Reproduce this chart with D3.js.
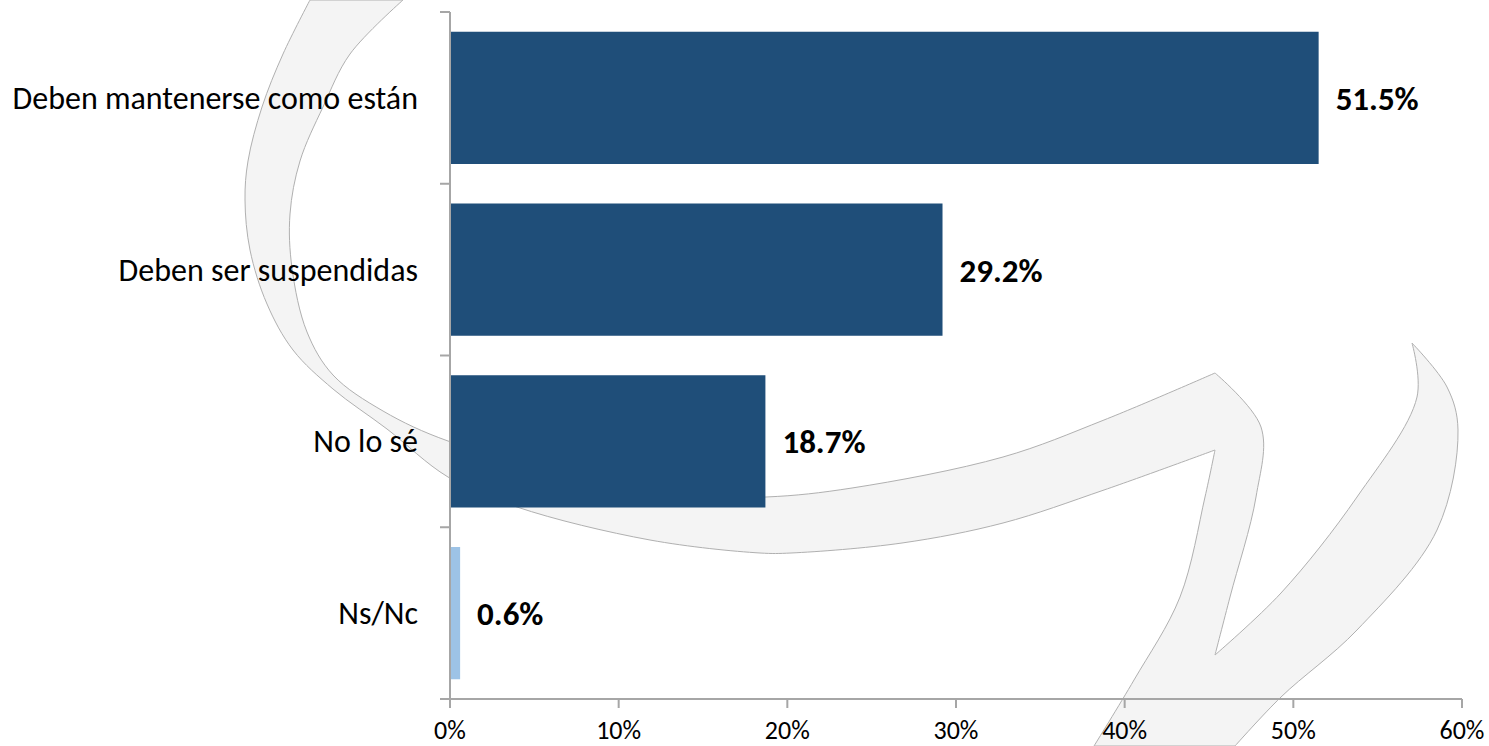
<!DOCTYPE html>
<html>
<head>
  <meta charset="utf-8">
  <title>Encuesta</title>
  <script src="https://d3js.org/d3.v7.min.js"></script>
  <style>
    body { margin: 0; background: #fff; }
    text { font-family: Calibri, Carlito, Lato, sans-serif; fill: #000; }
    .cat { font-size: 32px; }
    .val { font-size: 33px; font-weight: bold; }
    .tick-label { font-size: 26px; }
    .axis-line { stroke: #a6a6a6; stroke-width: 2px; fill: none; }
    .watermark { fill: #f4f4f4; stroke: #b0b0b0; stroke-width: 1px; }
  </style>
</head>
<body>
  <svg width="1489" height="746"></svg>
  <script>
    // data
    const categories = ["Deben mantenerse como están", "Deben ser suspendidas", "No lo sé", "Ns/Nc"];
    const values = [0.515, 0.292, 0.187, 0.006];
    const barColors = ["#1f4e79", "#1f4e79", "#1f4e79", "#9dc3e6"];
    const xTicks = [0, 0.1, 0.2, 0.3, 0.4, 0.5, 0.6];

    const width = 1489, height = 746;
    const svg = d3.select("svg").attr("width", width).attr("height", height);

    const x = d3.scaleLinear().domain([0, 0.6]).range([450, 1462]);
    const y = d3.scaleBand().domain(categories).range([12, 699])
      .paddingInner(0.23).paddingOuter(0.115);

    // background watermark (decorative swoosh)
    const smooth = d3.line().curve(d3.curveCatmullRom.alpha(0.5));
    const pieces = [
      [[310,0],[283,54],[262,107],[248,161],[245,200],[250,250],[267,304],[293,350],[333,389],[387,429],[448,477],[517,507],[650,540],[760,553],[791,553],[902,543],[1003,523],[1104,490],[1215,450]],
      [[1215,450],[1205,497],[1180,597],[1134,680],[1094,746]],
      [[1094,746],[1235,746]],
      [[1235,746],[1281,697],[1357,630],[1437,530],[1458,430],[1447,387],[1412,343]],
      [[1412,343],[1417,397],[1357,497],[1281,593],[1215,655]],
      [[1215,655],[1230,597],[1256,497],[1261,427],[1215,373]],
      [[1215,373],[1104,420],[1003,457],[852,488],[766,497],[650,495],[560,470],[448,441],[383,411],[333,375],[307,332],[292,268],[290,214],[300,161],[323,107],[350,54],[403,0]]
    ];
    const wmPath = pieces.map((p, i) => {
      const s = smooth(p);
      return i === 0 ? s : "L" + s.slice(1);
    }).join("") + "Z";
    svg.append("path").attr("class", "watermark").attr("d", wmPath);

    // bars
    svg.selectAll(".bar")
      .data(categories)
      .enter().append("rect")
      .attr("class", "bar")
      .attr("x", x(0) + 1)
      .attr("y", d => y(d))
      .attr("width", (d, i) => x(values[i]) - x(0) - 1)
      .attr("height", y.bandwidth())
      .attr("fill", (d, i) => barColors[i]);

    // value labels
    svg.selectAll(".val")
      .data(categories)
      .enter().append("text")
      .attr("class", "val")
      .attr("x", (d, i) => x(values[i]) + 17)
      .attr("y", d => y(d) + y.bandwidth() / 2)
      .attr("dy", "0.36em")
      .text((d, i) => (values[i] * 100).toFixed(1) + "%");

    // category labels
    svg.selectAll(".cat")
      .data(categories)
      .enter().append("text")
      .attr("class", "cat")
      .attr("x", 418)
      .attr("y", d => y(d) + y.bandwidth() / 2)
      .attr("dy", "0.34em")
      .attr("text-anchor", "end")
      .text(d => d);

    // vertical axis with ticks between categories
    const [y0, y1] = y.range();
    svg.append("line").attr("class", "axis-line")
      .attr("x1", x(0)).attr("x2", x(0)).attr("y1", y0).attr("y2", y1);
    d3.range(categories.length + 1).forEach(i => {
      const yy = y0 + i * y.step();
      svg.append("line").attr("class", "axis-line")
        .attr("x1", x(0) - 10).attr("x2", x(0)).attr("y1", yy).attr("y2", yy);
    });

    // horizontal axis
    svg.append("line").attr("class", "axis-line")
      .attr("x1", x(0) - 10).attr("x2", x(0.6)).attr("y1", y1).attr("y2", y1);
    xTicks.forEach(t => {
      svg.append("line").attr("class", "axis-line")
        .attr("x1", x(t)).attr("x2", x(t)).attr("y1", y1).attr("y2", y1 + 9);
      svg.append("text").attr("class", "tick-label")
        .attr("x", x(t)).attr("y", 739)
        .attr("text-anchor", "middle")
        .text(Math.round(t * 100) + "%");
    });
  </script>
</body>
</html>
